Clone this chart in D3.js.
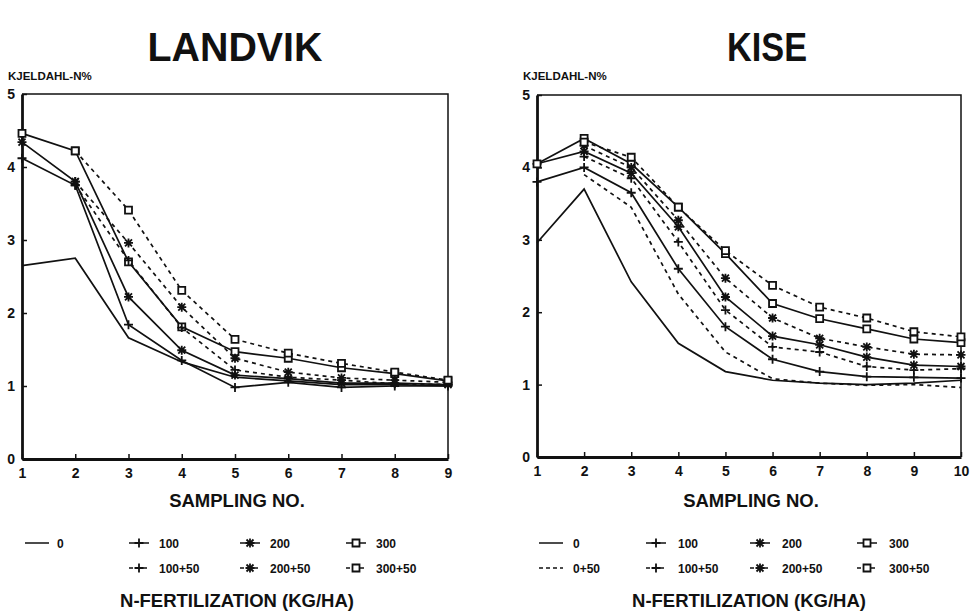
<!DOCTYPE html>
<html>
<head>
<meta charset="utf-8">
<script src="https://cdn.jsdelivr.net/npm/d3@7"></script>
<style>
  body { margin: 0; background: #fff; }
  text { font-family: "Liberation Sans", Arial, Helvetica, sans-serif; font-weight: bold; fill: #111; }
</style>
</head>
<body>
<svg id="chart" width="975" height="613"></svg>
<script>
// Sampling numbers on the x axis
const landvikSampling = [1, 2, 3, 4, 5, 6, 7, 8, 9];
const kiseSampling = [1, 2, 3, 4, 5, 6, 7, 8, 9, 10];
const yTickValues = [0, 1, 2, 3, 4, 5];

// N-fertilization treatments (kg/ha)
const landvikTreatments = ["0", "100", "200", "300", "100+50", "200+50", "300+50"];
const kiseTreatments = ["0", "100", "200", "300", "0+50", "100+50", "200+50", "300+50"];

// Kjeldahl-N % — LANDVIK (split dressings start at sampling 2)
const landvik_0      = [2.65, 2.75, 1.66, 1.33, 1.12, 1.07, 1.02, 1.02, 1.00];
const landvik_100    = [4.12, 3.75, 1.84, 1.35, 0.98, 1.05, 0.98, 1.00, 1.00];
const landvik_200    = [4.34, 3.80, 2.22, 1.49, 1.15, 1.10, 1.04, 1.04, 1.02];
const landvik_300    = [4.46, 4.22, 2.70, 1.81, 1.47, 1.38, 1.25, 1.17, 1.07];
const landvik_100_50 = [null, 3.75, 2.72, 1.80, 1.22, 1.12, 1.08, 1.03, 1.02];
const landvik_200_50 = [null, 3.80, 2.96, 2.08, 1.38, 1.19, 1.11, 1.08, 1.05];
const landvik_300_50 = [null, 4.22, 3.41, 2.31, 1.64, 1.45, 1.31, 1.19, 1.08];

// Kjeldahl-N % — KISE
const kise_0      = [2.96, 3.70, 2.42, 1.57, 1.18, 1.06, 1.02, 1.00, 1.02, 1.06];
const kise_0_50   = [null, 3.90, 3.45, 2.25, 1.45, 1.08, 1.02, 0.99, 1.00, 0.96];
const kise_100    = [3.80, 4.00, 3.65, 2.60, 1.80, 1.35, 1.18, 1.11, 1.10, 1.09];
const kise_100_50 = [null, 4.15, 3.85, 2.97, 2.03, 1.52, 1.45, 1.25, 1.20, 1.22];
const kise_200    = [4.05, 4.22, 3.92, 3.18, 2.21, 1.67, 1.55, 1.38, 1.27, 1.25];
const kise_200_50 = [null, 4.30, 4.00, 3.27, 2.47, 1.92, 1.64, 1.52, 1.42, 1.41];
const kise_300    = [4.05, 4.40, 4.05, 3.45, 2.81, 2.12, 1.91, 1.77, 1.63, 1.58];
const kise_300_50 = [null, 4.35, 4.14, 3.45, 2.85, 2.37, 2.07, 1.92, 1.73, 1.66];

const landvikValues = [landvik_0, landvik_100, landvik_200, landvik_300, landvik_100_50, landvik_200_50, landvik_300_50];
const kiseValues = [kise_0, kise_100, kise_200, kise_300, kise_0_50, kise_100_50, kise_200_50, kise_300_50];

const ink = "#111";
const svg = d3.select("#chart");

// Marker glyphs by base rate
const glyph = {
  "0": null,
  "100": "M-4.5,0H4.5M0,-4.5V4.5",
  "200": "M-4.5,0H4.5M0,-4.5V4.5M-3.5,-3.5L3.5,3.5M-3.5,3.5L3.5,-3.5",
  "300": "M-3.5,-3.5H3.5V3.5H-3.5Z"
};
const rates = ["0", "100", "200", "300"];
const baseRate = name => name.split("+")[0];
const isSplit = name => name.includes("+");

function drawMarker(g, name, x, y) {
  const p = glyph[baseRate(name)];
  if (!p) return;
  g.append("path")
    .attr("transform", `translate(${x},${y})`)
    .attr("d", p)
    .attr("fill", baseRate(name) === "300" ? "#fff" : "none")
    .attr("stroke", ink)
    .attr("stroke-width", 1.8);
}

function panel(opts) {
  const { title, titleX, sampling, treatments, values, x0, x1, y0, y1 } = opts;
  const g = svg.append("g");
  const x = d3.scaleLinear().domain([1, sampling[sampling.length - 1]]).range([x0, x1]);
  const y = d3.scaleLinear().domain([0, 5]).range([y0, y1]);

  // title and y-axis caption
  g.append("text").attr("x", titleX).attr("y", 61).attr("text-anchor", "middle")
    .attr("textLength", opts.titleWidth).attr("lengthAdjust", "spacingAndGlyphs")
    .style("font-size", "41px").text(title);
  g.append("text").attr("x", x0 - 14).attr("y", 80)
    .style("font-size", "11.5px").text("KJELDAHL-N%");

  // frame: thin top/right, heavy left/bottom
  g.append("path")
    .attr("d", `M${x0},${y1}H${x1}V${y0}`)
    .attr("fill", "none").attr("stroke", ink).attr("stroke-width", 1.5);

  const xAxis = d3.axisBottom(x).tickValues(sampling).tickSizeInner(-5).tickSizeOuter(0).tickPadding(9)
    .tickFormat(d3.format("d"));
  const yAxis = d3.axisLeft(y).tickValues(yTickValues).tickSizeInner(-5).tickSizeOuter(0).tickPadding(7)
    .tickFormat(d3.format("d"));
  const gx = g.append("g").attr("transform", `translate(0,${y0})`).call(xAxis);
  const gy = g.append("g").attr("transform", `translate(${x0},0)`).call(yAxis);
  [gx, gy].forEach(a => {
    a.select(".domain").attr("stroke", ink).attr("stroke-width", 2.8);
    a.selectAll(".tick line").attr("stroke", ink).attr("stroke-width", 1.5);
    a.selectAll(".tick text").style("font-size", "14px").style("font-family", null).attr("fill", ink);
  });
  gx.selectAll(".tick text").attr("dy", "0.71em");

  // one line per treatment, split dressings dashed
  const line = d3.line()
    .defined(d => d.v != null)
    .x(d => x(d.s)).y(d => y(d.v));
  treatments.forEach((name, i) => {
    const pts = sampling.map((s, j) => ({ s, v: values[i][j] }));
    g.append("path")
      .attr("d", line(pts))
      .attr("fill", "none").attr("stroke", ink)
      .attr("stroke-width", 1.7)
      .attr("stroke-dasharray", isSplit(name) ? "4,4" : null);
    pts.filter(d => d.v != null).forEach(d => drawMarker(g, name, x(d.s), y(d.v)));
  });

  // x-axis caption
  g.append("text").attr("x", (x0 + x1) / 2 + 2).attr("y", 507).attr("text-anchor", "middle")
    .style("font-size", "18.5px").text("SAMPLING NO.");

  // legend: base rates on the first row, split dressings on the second
  const cols = opts.legendCols;
  treatments.forEach(name => {
    const col = rates.indexOf(baseRate(name));
    const row = isSplit(name) ? 1 : 0;
    const cx = cols[col], cy = 543 + row * 25;
    const half = col === 0 ? 12 : 10;
    const lg = g.append("g");
    lg.append("path").attr("d", `M${cx - half},${cy}H${cx + half}`)
      .attr("stroke", ink).attr("stroke-width", 1.5)
      .attr("stroke-dasharray", row ? "4,3" : null);
    drawMarker(lg, name, cx, cy);
    lg.append("text").attr("x", cx + opts.legendGap).attr("y", cy + 4.5)
      .style("font-size", "12px").text(name);
  });
  g.append("text").attr("x", opts.footX).attr("y", 607).attr("text-anchor", "middle")
    .style("font-size", "18.5px").text("N-FERTILIZATION (KG/HA)");
}

panel({
  title: "LANDVIK", titleX: 235, titleWidth: 175, sampling: landvikSampling,
  treatments: landvikTreatments, values: landvikValues,
  x0: 22, x1: 448, y0: 459, y1: 94,
  legendCols: [37, 139, 250, 356], legendGap: 20, footX: 237
});
panel({
  title: "KISE", titleX: 767, titleWidth: 80, sampling: kiseSampling,
  treatments: kiseTreatments, values: kiseValues,
  x0: 537, x1: 961, y0: 457, y1: 95,
  legendCols: [551, 656, 760, 867], legendGap: 22, footX: 749
});
</script>
</body>
</html>
